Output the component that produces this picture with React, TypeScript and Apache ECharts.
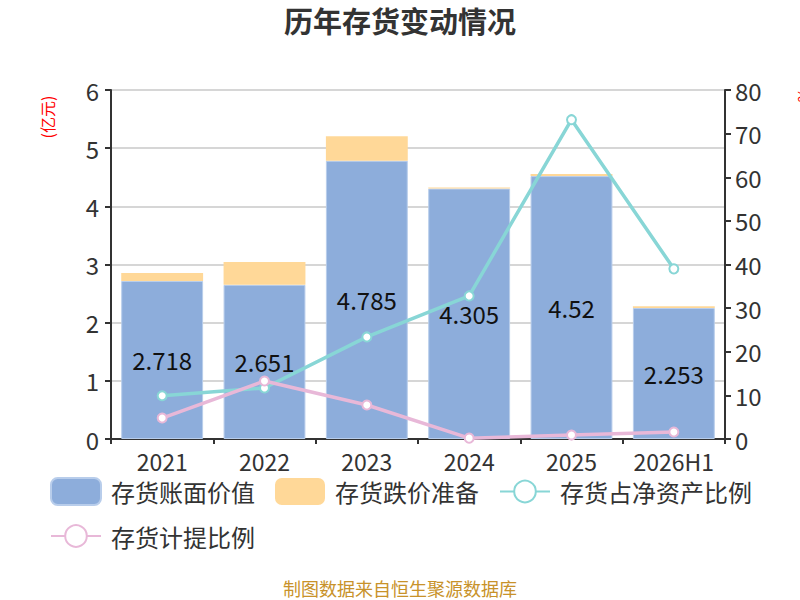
import React, { useEffect, useRef } from "react";
import * as echarts from "echarts";

const categories = ["2021", "2022", "2023", "2024", "2025", "2026H1"];
const bookValue = [2.718, 2.651, 4.785, 4.305, 4.52, 2.253];
const impairment = [0.135, 0.39, 0.42, 0.02, 0.035, 0.03];
const netAssetRatio = [9.9, 11.7, 23.4, 32.8, 73.2, 39.0];
const provisionRatio = [4.8, 13.3, 7.8, 0.2, 0.9, 1.6];
const leftTicks = { min: 0, max: 6, interval: 1 };
const rightTicks = { min: 0, max: 80, interval: 10 };

const FONT = "'Noto Sans CJK SC', 'Noto Sans', sans-serif";

export default function App() {
  const ref = useRef<HTMLDivElement>(null);
  useEffect(() => {
    document.body.style.margin = "0";
    if (!ref.current) return;
    const chart = echarts.init(ref.current, undefined, { renderer: "svg" });
    const axisLine = { show: true, lineStyle: { color: "#333", width: 2 } };
    const legendBase = {
      left: 50,
      padding: 0,
      itemWidth: 50,
      itemHeight: 27,
      itemGap: 20,
      textStyle: { fontSize: 24, color: "#333", fontFamily: FONT, padding: [0, 0, 0, 5] },
    };
    chart.setOption({
      animation: false,
      textStyle: { fontFamily: FONT },
      title: {
        text: "历年存货变动情况",
        left: "center",
        top: 0,
        textStyle: { fontSize: 29, fontWeight: "bold", color: "#333", fontFamily: FONT },
      },
      graphic: [
        {
          type: "text",
          x: 47,
          y: 117,
          rotation: Math.PI / 2,
          style: { text: "(亿元)", fill: "#ff0000", fontSize: 16, fontFamily: FONT, align: "center", verticalAlign: "middle" },
        },
        {
          type: "text",
          x: 803,
          y: 95,
          rotation: Math.PI / 2,
          style: { text: "%", fill: "#ff0000", fontSize: 16, fontFamily: FONT, align: "center", verticalAlign: "middle" },
        },
        {
          type: "text",
          x: 400,
          y: 588,
          style: { text: "制图数据来自恒生聚源数据库", fill: "#C8922A", fontSize: 18, fontFamily: FONT, align: "center", verticalAlign: "middle" },
        },
      ],
      legend: [
        {
          ...legendBase,
          top: 477,
          data: [
            { name: "存货账面价值", icon: "roundRect" },
            { name: "存货跌价准备", icon: "roundRect" },
            { name: "存货占净资产比例" },
          ],
        },
        {
          ...legendBase,
          top: 524,
          data: [{ name: "存货计提比例" }],
        },
      ],
      grid: { left: 111, right: 75, top: 90, bottom: 161 },
      xAxis: {
        type: "category",
        data: categories,
        axisLine,
        axisTick: { show: true, length: 5, lineStyle: { color: "#333", width: 2 } },
        axisLabel: { fontSize: 23, color: "#333", margin: 10, fontFamily: FONT, interval: 0, hideOverlap: false },
      },
      yAxis: [
        {
          type: "value",
          ...leftTicks,
          axisLine,
          axisTick: { show: true, length: 6, lineStyle: { color: "#333", width: 2 } },
          axisLabel: { fontSize: 24, color: "#333", margin: 12, fontFamily: FONT },
          splitLine: { show: true, lineStyle: { color: "#c8c8c8", width: 1.5 } },
        },
        {
          type: "value",
          ...rightTicks,
          axisLine,
          axisTick: { show: true, length: 6, lineStyle: { color: "#333", width: 2 } },
          axisLabel: { fontSize: 24, color: "#333", margin: 10, fontFamily: FONT },
          splitLine: { show: false },
        },
      ],
      series: [
        {
          name: "存货账面价值",
          type: "bar",
          stack: "inv",
          barWidth: "80%",
          data: bookValue,
          itemStyle: { color: "#8DADDB", borderColor: "#B8CDEB", borderWidth: 1 },
          label: {
            show: true,
            position: "inside",
            color: "#111",
            fontSize: 24,
            fontFamily: FONT,
          },
        },
        {
          name: "存货跌价准备",
          type: "bar",
          stack: "inv",
          data: impairment,
          itemStyle: { color: "#FFD898" },
        },
        {
          name: "存货占净资产比例",
          type: "line",
          yAxisIndex: 1,
          data: netAssetRatio,
          symbol: "circle",
          symbolSize: 9,
          lineStyle: { color: "#88D6D6", width: 3.5 },
          itemStyle: { color: "#fff", borderColor: "#88D6D6", borderWidth: 2 },
        },
        {
          name: "存货计提比例",
          type: "line",
          yAxisIndex: 1,
          data: provisionRatio,
          symbol: "circle",
          symbolSize: 9,
          lineStyle: { color: "#E8B8D8", width: 3.5 },
          itemStyle: { color: "#fff", borderColor: "#E8B8D8", borderWidth: 2 },
        },
      ],
    });
    return () => chart.dispose();
  }, []);
  return <div ref={ref} style={{ width: 800, height: 600 }} />;
}
